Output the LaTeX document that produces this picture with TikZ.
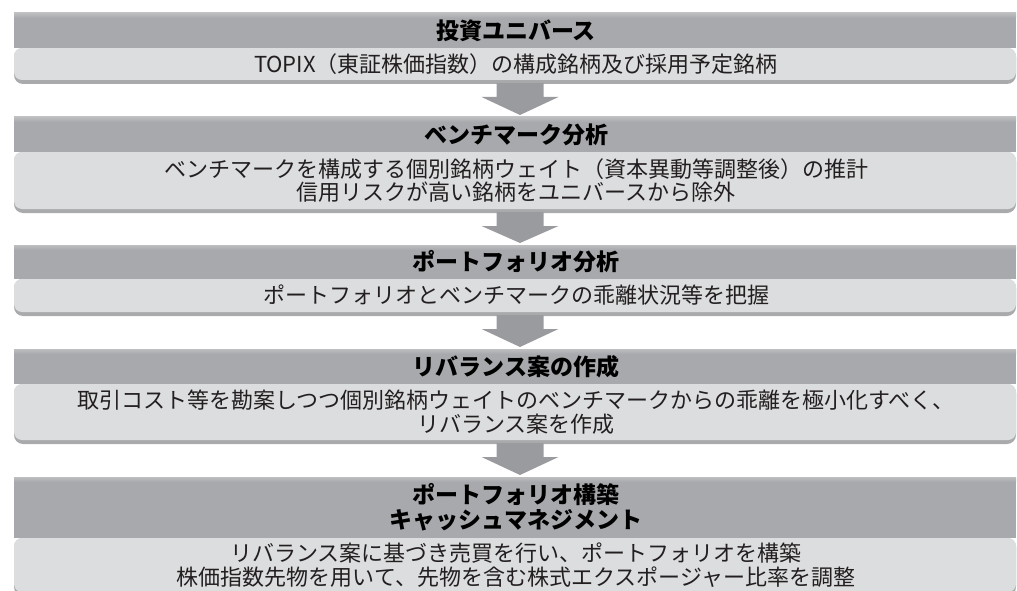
\documentclass[tikz,border=0pt]{standalone}
\usepackage{fontspec}
\setmainfont{Noto Sans CJK JP}
\usetikzlibrary{calc}
\definecolor{hdrc}{HTML}{A8A9AC}
\definecolor{hdrtop}{HTML}{BDBEC0}
\definecolor{bodyc}{HTML}{DCDDDF}
\definecolor{shadowc}{HTML}{A9AAAC}
\definecolor{arrowc}{HTML}{9A9B9E}
\definecolor{txtc}{HTML}{231F20}
\tikzset{
  hdrtext/.style={font=\fontsize{23}{25}\selectfont\bfseries, text=black, align=center, inner sep=0pt},
  bodytext/.style={font=\fontsize{22}{23.5}\selectfont, text=txtc, align=center, inner sep=0pt},
  blockarrow/.style={fill=arrowc}
}
\newcommand{\stepbox}[7]{% name, top, header bottom, bottom, header text, body text, text x
  \fill[shadowc, rounded corners=9pt] (14,#3) rectangle (1016,#4);
  \fill[bodyc, rounded corners=8pt] (14,#3) rectangle (1016,#4-4);
  \fill[hdrc] (14,#2) rectangle (1016,#3);
  \shade[top color=hdrtop, bottom color=hdrc] (14,#2) rectangle (1016,#2+5);
  \node[hdrtext] (#1h) at (#7,{(#2+#3)/2}) {#5};
  \node[bodytext] (#1b) at (#7,{(#3+#4-4)/2}) {#6};
  \coordinate (#1top) at (520,#2);
  \coordinate (#1bot) at (520,#4);
}
\newcommand{\flowarrow}[2]{%
  \fill[blockarrow] ($(#1)+(-23.5,-1)$) -- ($(#1)+(23.5,-1)$) -- ($(#1)+(23.5,13)$)
    -- ($(#1)+(38.5,13)$) -- ($(#2)+(0,-2)$) -- ($(#1)+(-38.5,13)$)
    -- ($(#1)+(-23.5,13)$) -- cycle;
}
\begin{document}
\begin{tikzpicture}[x=1pt,y=-1pt]
\useasboundingbox (0,0) rectangle (1017,591);
\stepbox{s1}{13}{48}{84}{投資ユニバース}{TOPIX（東証株価指数）の構成銘柄及び採用予定銘柄}{516}
\stepbox{s2}{117}{152}{213}{ベンチマーク分析}{ベンチマークを構成する個別銘柄ウェイト（資本異動等調整後）の推計\\信用リスクが高い銘柄をユニバースから除外}{516}
\stepbox{s3}{245}{279}{316}{ポートフォリオ分析}{ポートフォリオとベンチマークの乖離状況等を把握}{516}
\stepbox{s4}{349}{384}{444}{リバランス案の作成}{取引コスト等を勘案しつつ個別銘柄ウェイトのベンチマークからの乖離を極小化すべく、\\リバランス案を作成}{516}
\stepbox{s5}{477}{538}{596}{ポートフォリオ構築\\キャッシュマネジメント}{リバランス案に基づき売買を行い、ポートフォリオを構築\\株価指数先物を用いて、先物を含む株式エクスポージャー比率を調整}{516}
\flowarrow{s1bot}{s2top}
\flowarrow{s2bot}{s3top}
\flowarrow{s3bot}{s4top}
\flowarrow{s4bot}{s5top}
\end{tikzpicture}
\end{document}
